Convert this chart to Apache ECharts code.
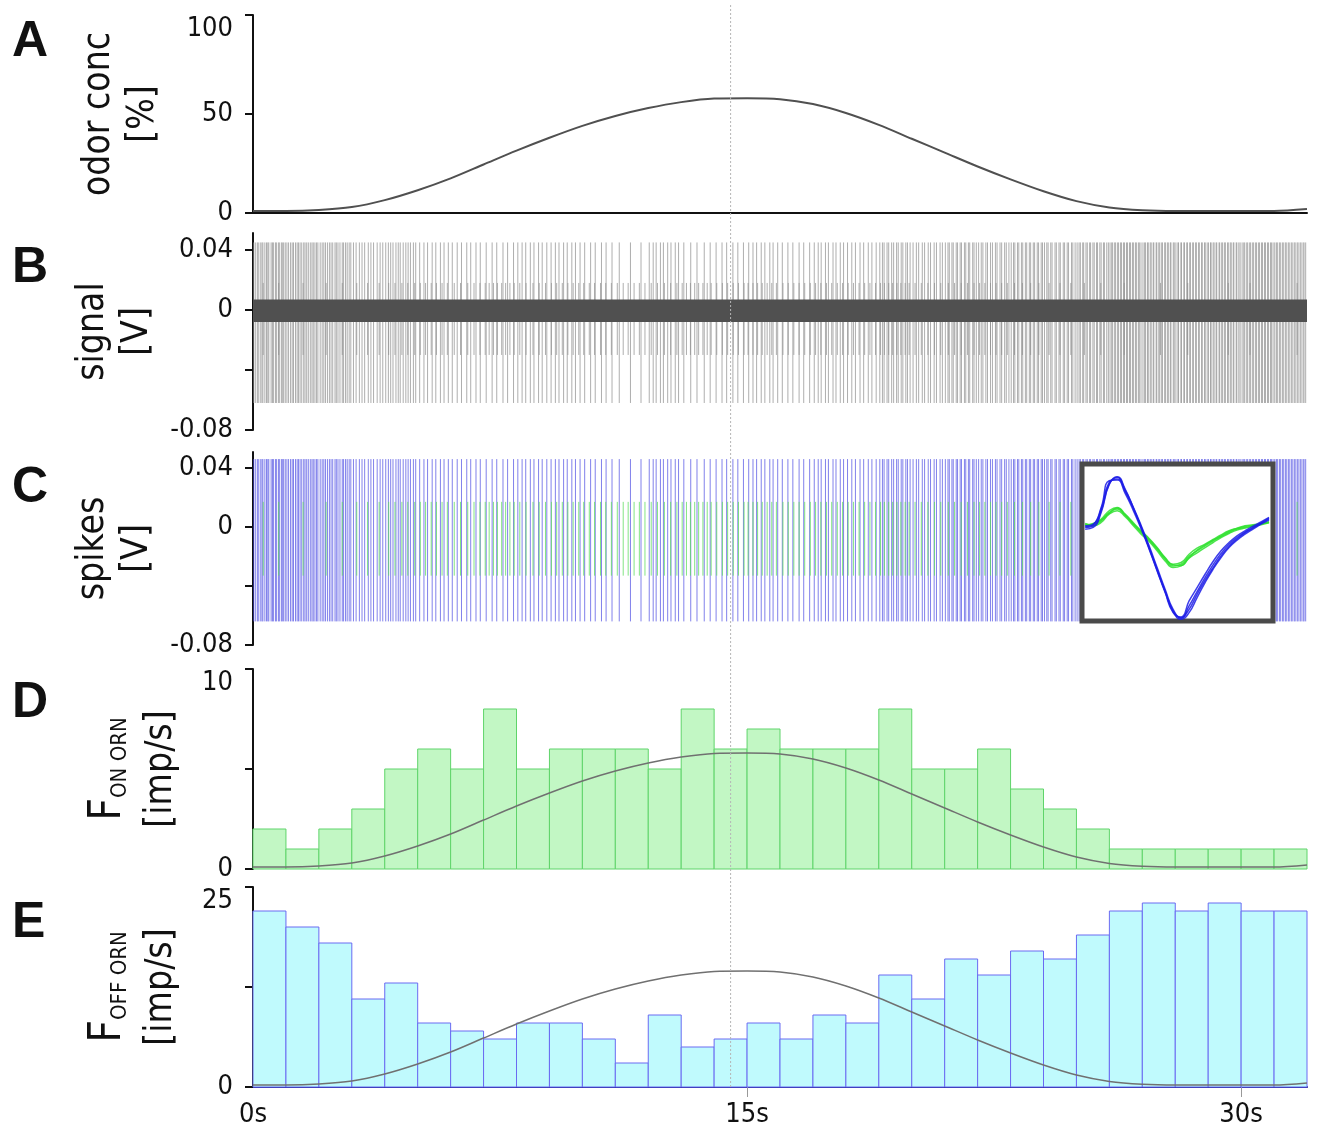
<!DOCTYPE html>
<html>
<head>
<meta charset="utf-8">
<script src="https://cdn.jsdelivr.net/npm/echarts@6/dist/echarts.min.js"></script>
<style>
  html, body { margin: 0; padding: 0; background: #fff; }
  #main { width: 1318px; height: 1135px; }
</style>
</head>
<body>
<div id="main"></div>
<script>
// odor stimulus, sampled every second (s -> %)
const odorTime = [0,1,2,3,4,5,6,7,8,9,10,11,12,13,14,15,16,17,18,19,20,21,22,23,24,25,26,27,28,29,30,31,32];
const odorConc = [1,1,1.5,3,6.5,11.5,17.5,24.5,31.5,38,44,49,53,56,57.8,58,57.5,55,50.5,44.5,37.5,30.5,23.5,17,11,6,2.8,1.4,1,1,1,1,2];

// firing rate histograms, 1 s bins (imp/s)
const binWidth = 1;
const onRate  = [2,1,2,3,5,6,5,8,5,6,6,6,5,8,6,7,6,6,6,8,5,5,6,4,3,2,1,1,1,1,1,1];
const offRate = [22,20,18,11,13,8,7,6,8,8,6,3,9,5,6,8,6,9,8,14,11,16,14,17,16,19,22,23,22,23,22,22];

// spike times (s)
const offSpikes = [
  0.02,0.07,0.13,0.16,0.22,0.27,0.30,0.36,0.41,0.45,0.48,0.55,0.59,0.62,0.68,0.71,0.77,0.80,0.86,0.89,0.93,0.98,
  1.03,1.08,1.14,1.19,1.23,1.29,1.34,1.38,1.43,1.48,1.54,1.58,1.63,1.68,1.74,1.79,1.83,1.88,1.93,1.97,
  2.04,2.10,2.15,2.20,2.26,2.32,2.37,2.42,2.49,2.53,2.58,2.64,2.71,2.75,2.81,2.86,2.92,2.97,
  3.05,3.13,3.23,3.31,3.39,3.50,3.58,3.66,3.77,3.86,3.94,
  4.03,4.11,4.18,4.25,4.34,4.41,4.47,4.56,4.64,4.71,4.78,4.87,4.94,
  5.06,5.19,5.30,5.44,5.55,5.69,5.80,5.93,
  6.05,6.20,6.33,6.49,6.61,6.77,6.90,
  7.08,7.26,7.40,7.59,7.73,7.91,
  8.04,8.17,8.28,8.42,8.53,8.67,8.78,8.92,
  9.05,9.18,9.29,9.43,9.54,9.68,9.79,9.93,
  10.07,10.25,10.39,10.58,10.72,10.90,
  11.12,11.46,11.78,
  12.03,12.15,12.24,12.37,12.46,12.59,12.69,12.82,12.92,
  13.08,13.29,13.48,13.70,13.88,
  14.06,14.24,14.38,14.57,14.72,14.89,
  15.05,15.18,15.29,15.43,15.54,15.69,15.79,15.93,
  16.07,16.24,16.39,16.58,16.72,16.90,
  17.04,17.16,17.25,17.38,17.47,17.61,17.70,17.83,17.93,
  18.05,18.18,18.29,18.43,18.54,18.68,18.79,18.92,
  19.03,19.11,19.16,19.25,19.30,19.39,19.45,19.54,19.59,19.68,19.73,19.82,19.87,19.95,
  20.04,20.14,20.21,20.32,20.39,20.50,20.57,20.68,20.75,20.86,20.93,
  21.02,21.10,21.14,21.22,21.26,21.35,21.39,21.47,21.51,21.60,21.64,21.72,21.76,21.85,21.89,21.96,
  22.03,22.11,22.16,22.25,22.30,22.39,22.45,22.54,22.59,22.68,22.73,22.82,22.87,22.95,
  23.02,23.09,23.13,23.21,23.25,23.33,23.37,23.45,23.49,23.57,23.61,23.69,23.73,23.81,23.85,23.93,23.97,
  24.03,24.10,24.14,24.22,24.26,24.35,24.39,24.47,24.51,24.60,24.64,24.72,24.76,24.85,24.89,24.96,
  25.02,25.08,25.12,25.19,25.22,25.29,25.33,25.40,25.43,25.50,25.54,25.61,25.64,25.71,25.75,25.82,25.85,25.92,25.97,
  26.02,26.07,26.10,26.16,26.19,26.25,26.28,26.34,26.37,26.43,26.46,26.52,26.55,26.61,26.64,26.70,26.73,26.79,26.82,26.88,26.91,26.96,
  27.02,27.07,27.10,27.16,27.18,27.24,27.27,27.33,27.35,27.42,27.44,27.50,27.53,27.59,27.61,27.68,27.70,27.76,27.79,27.85,27.87,27.94,27.97,
  28.02,28.08,28.10,28.17,28.19,28.26,28.28,28.35,28.37,28.44,28.46,28.53,28.55,28.62,28.64,28.71,28.73,28.80,28.82,28.89,28.91,28.97,
  29.01,29.07,29.09,29.15,29.18,29.24,29.26,29.33,29.35,29.41,29.44,29.50,29.52,29.59,29.61,29.67,29.70,29.76,29.78,29.85,29.87,29.93,29.97,
  30.03,30.08,30.11,30.17,30.20,30.26,30.29,30.35,30.38,30.44,30.47,30.53,30.56,30.62,30.65,30.71,30.74,30.80,30.83,30.89,30.92,30.97,
  31.02,31.07,31.10,31.16,31.19,31.25,31.28,31.34,31.37,31.43,31.46,31.52,31.55,31.61,31.64,31.70,31.73,31.79,31.82,31.88,31.91,31.96
];
const onSpikes = [
  0.31,0.78, 1.52, 2.22,2.71, 3.15,3.48,3.83,
  4.12,4.31,4.52,4.70,4.91, 5.08,5.24,5.41,5.57,5.74,5.90,
  6.11,6.30,6.52,6.71,6.89, 7.05,7.17,7.30,7.42,7.55,7.67,7.80,7.93,
  8.10,8.29,8.50,8.69,8.88, 9.06,9.22,9.39,9.56,9.72,9.89,
  10.04,10.21,10.37,10.55,10.71,10.88, 11.06,11.24,11.39,11.57,11.73,11.90,
  12.09,12.28,12.49,12.68,12.87, 13.03,13.16,13.28,13.41,13.53,13.66,13.79,13.91,
  14.08,14.25,14.41,14.58,14.74,14.91, 15.03,15.18,15.32,15.46,15.61,15.75,15.89,
  16.09,16.25,16.42,16.58,16.75,16.92, 17.08,17.24,17.41,17.57,17.74,17.90,
  18.07,18.23,18.40,18.57,18.73,18.90, 19.05,19.17,19.30,19.42,19.55,19.67,19.80,19.92,
  20.10,20.29,20.49,20.69,20.88, 21.11,21.30,21.50,21.69,21.89,
  22.06,22.22,22.39,22.56,22.73,22.90, 23.12,23.36,23.61,23.86,
  24.17,24.50,24.83, 25.24,25.74, 26.45, 27.55, 28.38, 29.61, 30.27, 31.70
];

// spike extent [top, bottom] in V
const offSpikeB = [0.045, -0.062];
const onSpikeB  = [0.018, -0.030];
const offSpikeC = [0.046, -0.064];
const onSpikeC  = [0.017, -0.033];
const noiseBand = [-0.008, 0.007];
const markerTime = 14.5;

// inset: spike waveforms (arbitrary units, 24 samples)
const waveBlue = [
  [0.02,0.08,0.55,1.35,1.45,1.08,0.58,0.02,-0.60,-1.25,-1.90,-2.50,-2.72,-2.35,-1.92,-1.50,-1.12,-0.78,-0.50,-0.30,-0.14,0.00,0.14,0.28],
  [-0.05,0.00,0.45,1.28,1.50,1.12,0.62,0.06,-0.55,-1.20,-1.85,-2.45,-2.70,-2.45,-2.00,-1.58,-1.20,-0.85,-0.56,-0.34,-0.16,-0.02,0.12,0.25],
  [0.05,0.10,0.60,1.40,1.42,1.02,0.52,-0.04,-0.65,-1.30,-1.95,-2.55,-2.68,-2.20,-1.80,-1.40,-1.02,-0.70,-0.45,-0.25,-0.10,0.04,0.17,0.30],
  [0.00,0.04,0.50,1.30,1.52,1.15,0.60,0.00,-0.62,-1.28,-1.92,-2.52,-2.75,-2.55,-2.10,-1.65,-1.25,-0.90,-0.60,-0.38,-0.20,-0.05,0.10,0.22]
];
const waveGreen = [
  [0.10,0.08,0.20,0.45,0.55,0.36,0.10,-0.15,-0.38,-0.65,-0.95,-1.15,-1.10,-0.86,-0.70,-0.55,-0.40,-0.27,-0.15,-0.05,0.00,0.05,0.10,0.17],
  [0.05,0.10,0.25,0.50,0.60,0.40,0.15,-0.10,-0.33,-0.60,-0.90,-1.10,-1.05,-0.80,-0.62,-0.50,-0.36,-0.22,-0.10,-0.02,0.05,0.08,0.12,0.15],
  [0.12,0.05,0.15,0.40,0.50,0.32,0.06,-0.20,-0.42,-0.70,-1.00,-1.20,-1.15,-0.92,-0.76,-0.60,-0.45,-0.30,-0.18,-0.08,-0.02,0.03,0.08,0.14],
  [0.08,0.12,0.22,0.42,0.58,0.38,0.12,-0.12,-0.35,-0.62,-0.92,-1.12,-1.14,-0.90,-0.68,-0.52,-0.38,-0.25,-0.12,-0.03,0.03,0.06,0.10,0.16]
];

// axis ticks / labels
const timeRange = [0, 32];
const timeTicks = [15, 30];
const timeLabels = [0, 15, 30];
const ticksA = [0, 50, 100];
const ticksV = [-0.08, -0.04, 0, 0.04];
const labelsV = [-0.08, 0, 0.04];
const ticksD = [0, 5, 10], labelsD = [0, 10];
const ticksE = [0, 12.5, 25], labelsE = [0, 25];

const FONT = "'Liberation Sans Narrow', 'Arial Narrow', 'DejaVu Sans Condensed', sans-serif";
const INK = '#111';

const chart = echarts.init(document.getElementById('main'), null, { renderer: 'canvas' });

const L = 253, W = 1054;
const grids = [
  { left: L, width: W, top: 15, height: 198 },   // A
  { left: L, width: W, top: 233, height: 197 },  // B
  { left: L, width: W, top: 452, height: 193 },  // C
  { left: L, width: W, top: 669, height: 200 },  // D
  { left: L, width: W, top: 887, height: 200 },  // E
  { left: L, width: W, top: 5, height: 1082 },   // marker overlay
  { left: 1082, width: 191, top: 464, height: 157, show: true, backgroundColor: '#fff',
    borderColor: '#4a4a4a', borderWidth: 5, z: 5 } // inset
];

function yAxisOf(idx, min, max, ticks, labels, name, gap, topAlign, rich) {
  return {
    type: 'value', gridIndex: idx, min: min, max: max,
    axisLine: { show: true, lineStyle: { color: INK, width: 2 } },
    axisTick: { show: true, length: 8, customValues: ticks, lineStyle: { color: INK, width: 2 } },
    axisLabel: {
      customValues: labels, margin: 20, fontSize: 27, fontFamily: FONT, color: INK,
      formatter: v => String(v),
      verticalAlignMaxLabel: topAlign ? 'top' : null
    },
    splitLine: { show: false },
    name: name, nameLocation: 'middle', nameRotate: 90, nameGap: gap,
    nameTextStyle: { fontSize: 37, lineHeight: 44, fontFamily: FONT, color: INK, rich: rich }
  };
}

const richF = {
  f: { fontSize: 44, fontFamily: FONT, color: INK, lineHeight: 62, verticalAlign: 'bottom', padding: [0, 0, 8, 0] },
  s: { fontSize: 22, fontFamily: FONT, color: INK, lineHeight: 62, verticalAlign: 'bottom', padding: [0, 0, 8, 0] },
  n: { fontSize: 37, fontFamily: FONT, color: INK, lineHeight: 44 }
};

const yAxes = [
  yAxisOf(0, 0, 100, ticksA, ticksA, 'odor conc\n[%]', 88, true),
  yAxisOf(1, -0.08, 0.0513, ticksV, labelsV, 'signal\n[V]', 88, false),
  yAxisOf(2, -0.08, 0.0508, ticksV, labelsV, 'spikes\n[V]', 88, false),
  yAxisOf(3, 0, 10, ticksD, labelsD, '{f|F}{s|ON ORN}\n{n|[imp/s]}', 70, true, richF),
  yAxisOf(4, 0, 25, ticksE, labelsE, '{f|F}{s|OFF ORN}\n{n|[imp/s]}', 70, true, richF),
  { type: 'value', gridIndex: 5, min: 0, max: 1, show: false },
  { type: 'value', gridIndex: 6, min: -2.8, max: 1.9, show: false }
];

const hiddenX = idx => ({ type: 'value', gridIndex: idx, min: timeRange[0], max: timeRange[1], show: false });
const xAxes = [
  { type: 'value', gridIndex: 0, min: timeRange[0], max: timeRange[1],
    axisLine: { show: true, lineStyle: { color: INK, width: 2 } },
    axisTick: { show: false }, axisLabel: { show: false }, splitLine: { show: false } },
  hiddenX(1), hiddenX(2), hiddenX(3),
  { type: 'value', gridIndex: 4, min: timeRange[0], max: timeRange[1],
    axisLine: { show: true, onZero: false, lineStyle: { color: '#16168c', width: 2 } },
    axisTick: { show: true, customValues: timeTicks, length: 10, lineStyle: { color: '#999', width: 1 } },
    axisLabel: { customValues: timeLabels, formatter: v => v + 's', margin: 14,
      fontSize: 27, fontFamily: FONT, color: INK },
    splitLine: { show: false } },
  hiddenX(5),
  { type: 'value', gridIndex: 6, min: -0.4, max: 23.5, show: false }
];

// vertical spike lines
function spikeSeries(idx, times, extent, color, z) {
  return {
    type: 'custom', xAxisIndex: idx, yAxisIndex: idx, z: z, clip: true, silent: true,
    data: times.map(t => [t, extent[0], extent[1]]),
    renderItem: (params, api) => {
      const a = api.coord([api.value(0), api.value(1)]);
      const b = api.coord([api.value(0), api.value(2)]);
      return { type: 'line', shape: { x1: a[0], y1: a[1], x2: b[0], y2: b[1] },
        style: { stroke: color, lineWidth: 1 } };
    }
  };
}

function histSeries(idx, rates, fill, stroke) {
  return {
    type: 'custom', xAxisIndex: idx, yAxisIndex: idx, z: 2, silent: true,
    data: rates.map((v, i) => [i * binWidth, (i + 1) * binWidth, v]),
    renderItem: (params, api) => {
      const p0 = api.coord([api.value(0), api.value(2)]);
      const p1 = api.coord([api.value(1), 0]);
      return { type: 'rect', shape: { x: p0[0], y: p0[1], width: p1[0] - p0[0], height: p1[1] - p0[1] },
        style: { fill: fill, stroke: stroke, lineWidth: 1 } };
    }
  };
}

function odorLine(idx, scale, color, width) {
  return {
    type: 'line', xAxisIndex: idx, yAxisIndex: idx, z: 4, silent: true,
    smooth: 0.3, showSymbol: false, symbol: 'none',
    data: odorTime.map((t, i) => [t, odorConc[i] * scale]),
    lineStyle: { color: color, width: width }
  };
}

function waveSeries(trace, color) {
  return {
    type: 'line', xAxisIndex: 6, yAxisIndex: 6, z: 6, silent: true,
    smooth: 0.5, showSymbol: false, symbol: 'none',
    data: trace.map((v, i) => [i, v]),
    lineStyle: { color: color, width: 1.5, opacity: 0.85 }
  };
}

const series = [
  odorLine(0, 1, '#505050', 2),

  spikeSeries(1, offSpikes, offSpikeB, 'rgba(140,140,140,0.7)', 2),
  spikeSeries(1, onSpikes, onSpikeB, 'rgba(140,140,140,0.7)', 2),
  {
    type: 'custom', xAxisIndex: 1, yAxisIndex: 1, z: 3, silent: true,
    data: [[timeRange[0], timeRange[1], noiseBand[0], noiseBand[1]]],
    renderItem: (params, api) => {
      const a = api.coord([api.value(0), api.value(3)]);
      const b = api.coord([api.value(1), api.value(2)]);
      return { type: 'rect', shape: { x: a[0], y: a[1], width: b[0] - a[0], height: b[1] - a[1] },
        style: { fill: '#505050' } };
    }
  },

  spikeSeries(2, offSpikes, offSpikeC, 'rgba(70,70,225,0.68)', 2),
  spikeSeries(2, onSpikes, onSpikeC, 'rgba(90,220,90,0.75)', 3),

  histSeries(3, onRate, '#c2f7c4', '#5fd46a'),
  odorLine(3, 0.1, '#707070', 1.5),

  histSeries(4, offRate, '#c0fafd', '#6a6af2'),
  odorLine(4, 0.25, '#707070', 1.5),

  {
    type: 'custom', xAxisIndex: 5, yAxisIndex: 5, z: 7, silent: true,
    data: [[markerTime]],
    renderItem: (params, api) => {
      const a = api.coord([api.value(0), 1]);
      const b = api.coord([api.value(0), 0]);
      return { type: 'line', shape: { x1: a[0], y1: a[1], x2: b[0], y2: b[1] },
        style: { stroke: '#b5b5b5', lineWidth: 1, lineDash: [2, 2] } };
    }
  }
];
waveGreen.forEach(t => series.push(waveSeries(t, '#2fe02f')));
waveBlue.forEach(t => series.push(waveSeries(t, '#1c1ce6')));

const letters = ['A', 'B', 'C', 'D', 'E'];
const letterTop = [17, 243, 463, 678, 898];

chart.setOption({
  animation: false,
  backgroundColor: '#fff',
  title: letters.map((s, i) => ({
    text: s, left: 12, top: letterTop[i], padding: 0,
    textStyle: { fontSize: 50, fontWeight: 'bold', fontFamily: "'Liberation Sans', Arial, sans-serif", color: INK }
  })),
  grid: grids,
  xAxis: xAxes,
  yAxis: yAxes,
  series: series
});
</script>
</body>
</html>
